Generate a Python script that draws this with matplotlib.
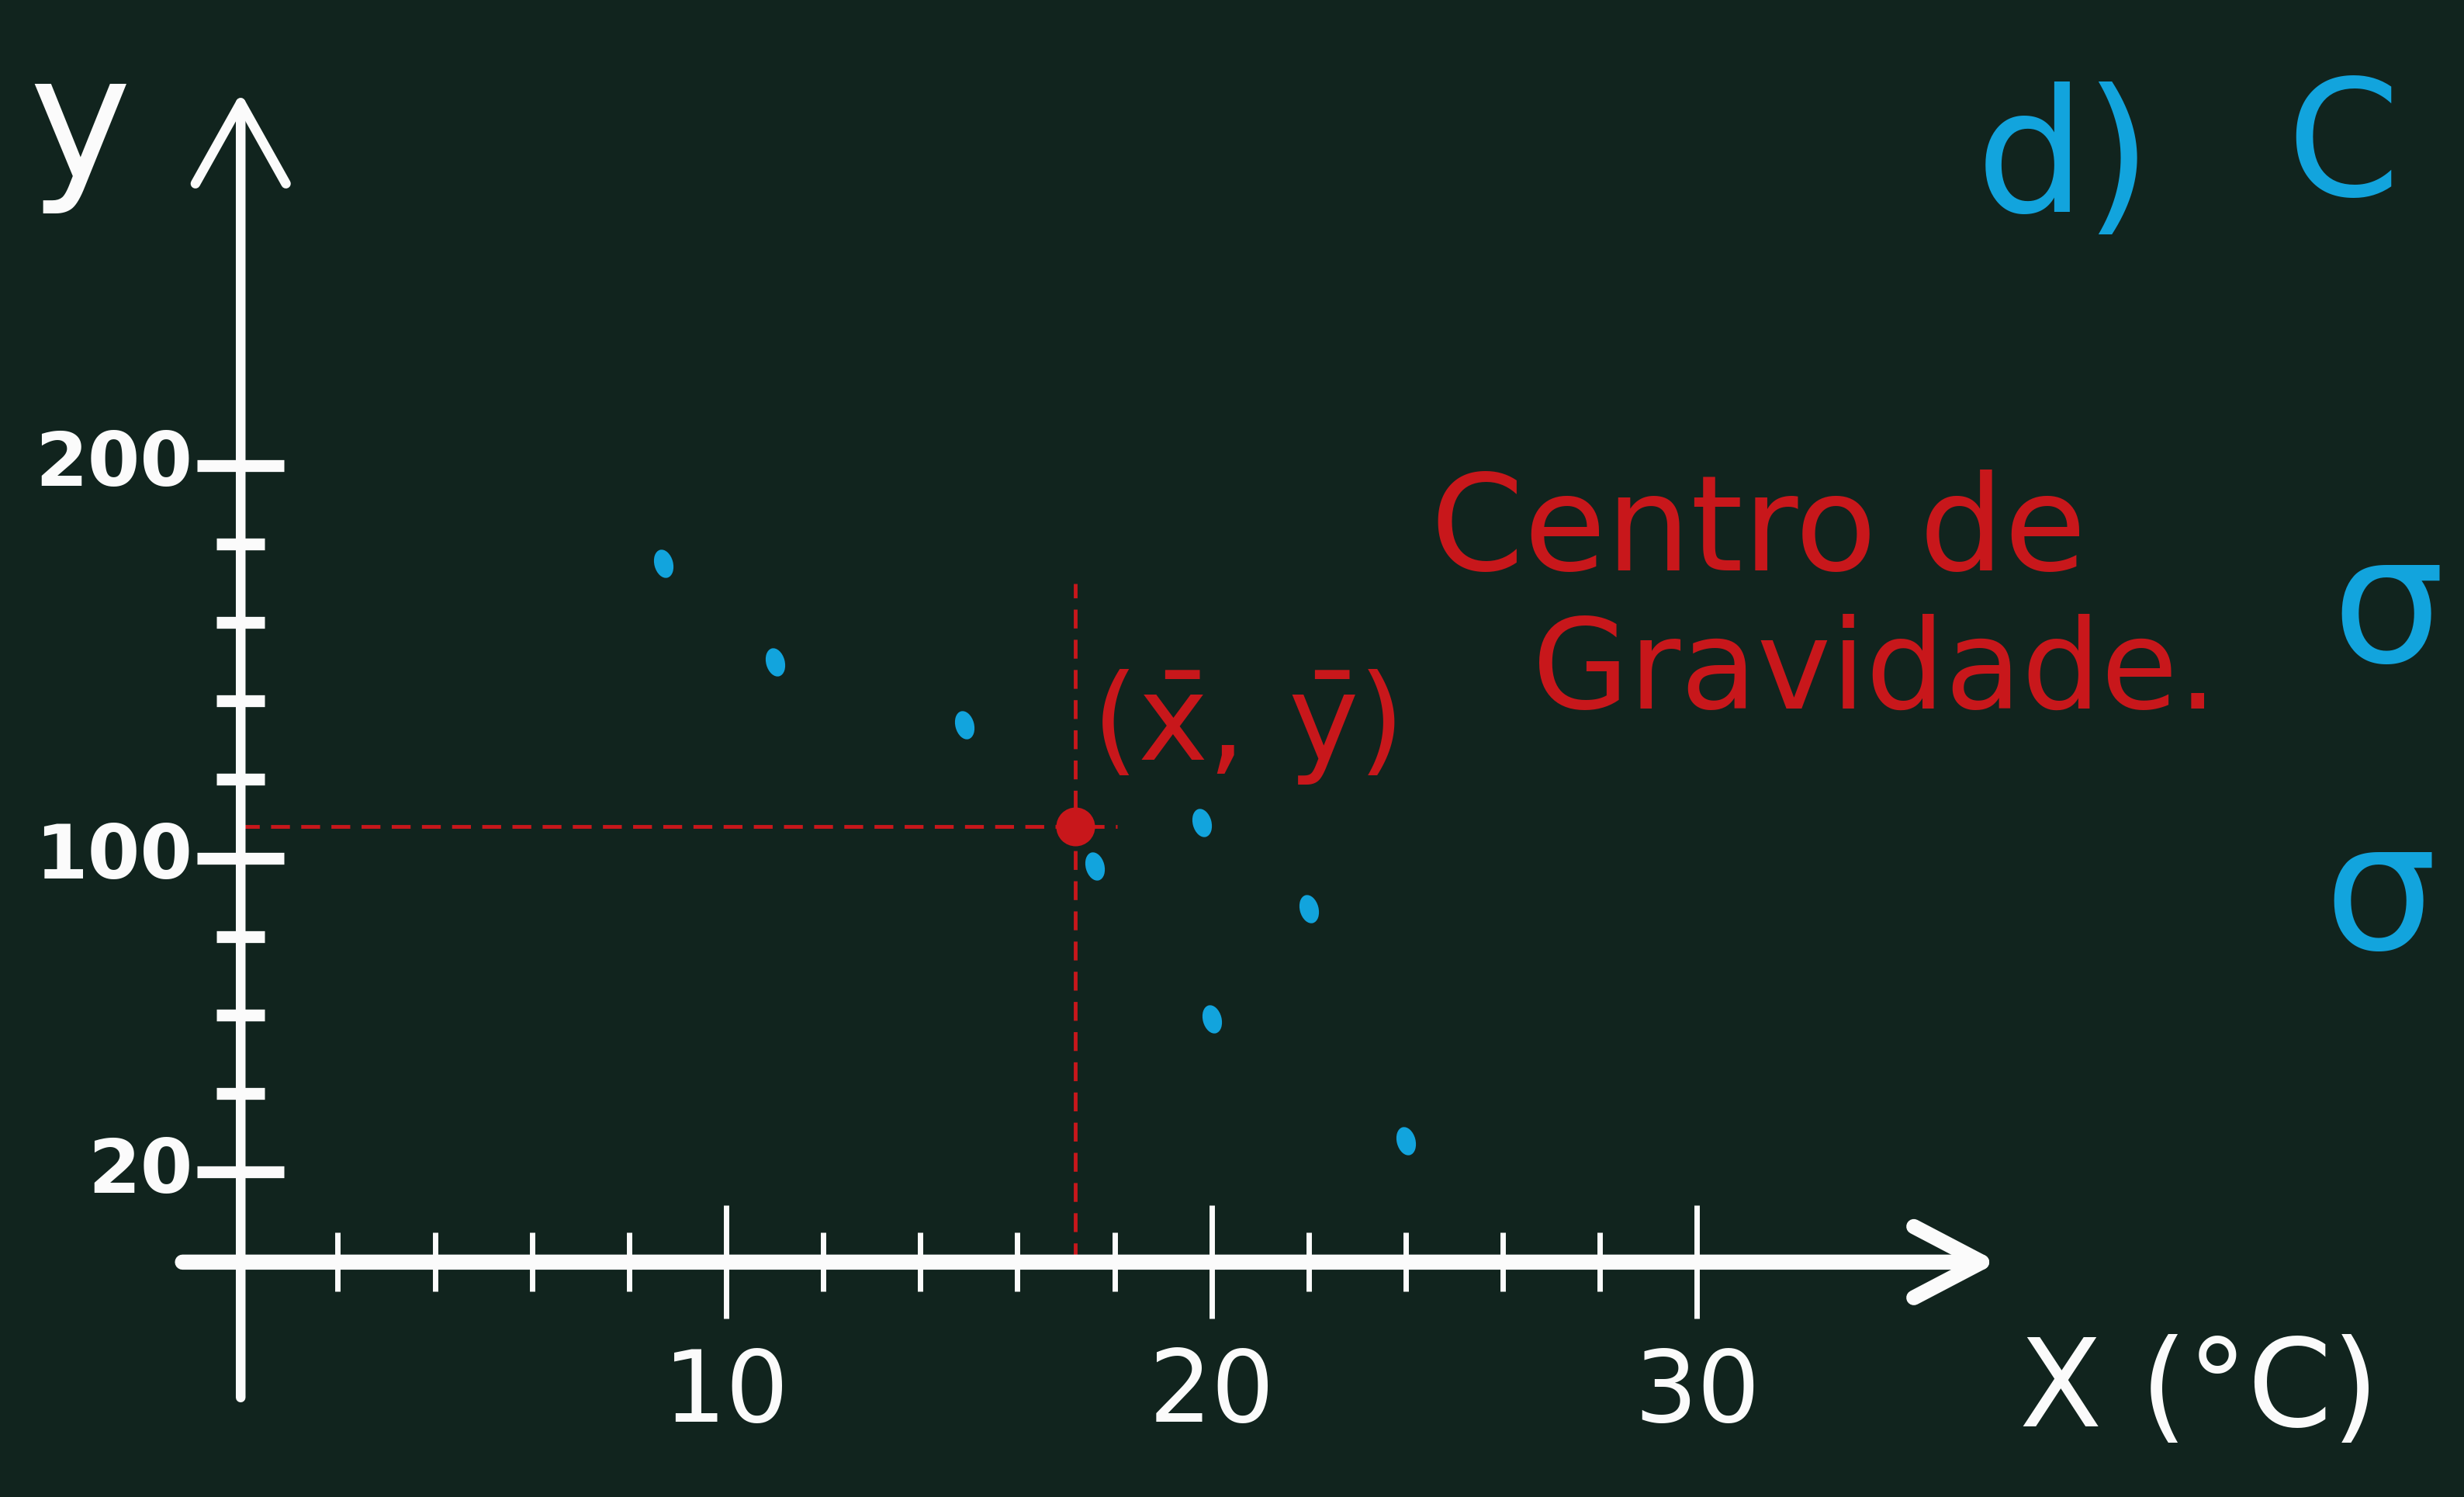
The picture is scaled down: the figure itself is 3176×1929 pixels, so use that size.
import matplotlib
matplotlib.use("Agg")
import matplotlib.pyplot as plt
from matplotlib.path import Path
from matplotlib.transforms import Affine2D

# ---------------- data ----------------
temperature_c = [8.7, 11.0, 14.9, 17.6, 19.8, 20.0, 22.0, 24.0]
y_values = [175, 150, 134, 98, 109, 59, 87, 28]
x_mean = 17.2
y_mean = 108

x_ticks = [2, 4, 6, 8, 10, 12, 14, 16, 18, 20, 22, 24, 26, 28, 30]
x_major = [10, 20, 30]
y_ticks = [20, 40, 60, 80, 100, 120, 140, 160, 180, 200]
y_major = [20, 100, 200]

# ---------------- style ----------------
BG = "#11241e"
WHITE = "#fbfbfb"
BLUE = "#12a4dd"
RED = "#c8171b"
W, H = 3176, 1929
plt.rcParams["font.family"] = ["DejaVu Sans"]
plt.rcParams["mathtext.fontset"] = "dejavusans"

fig = plt.figure(figsize=(W / 100, H / 100), dpi=100)
fig.patch.set_facecolor(BG)
ax = fig.add_axes([0, 0, 1, 1])
ax.set_facecolor(BG)
ax.set_xlim(-4.958, 45.80)
ax.set_ylim(-62.86, 318.67)
ax.axis("off")


def fp(xp, yp):
    return xp / W, 1 - yp / H


axis_y = -3

# axes with hand-drawn style arrows
ax.annotate("", xy=(0, 295), xytext=(0, -37.5),
            arrowprops=dict(arrowstyle="->,head_length=0.75,head_width=0.42",
                            lw=9, color=WHITE, mutation_scale=100,
                            shrinkA=0, shrinkB=0, capstyle="round",
                            joinstyle="round"))
ax.annotate("", xy=(36.2, axis_y), xytext=(-1.2, axis_y),
            arrowprops=dict(arrowstyle="->,head_length=0.63,head_width=0.33",
                            lw=14, color=WHITE, mutation_scale=100,
                            shrinkA=0, shrinkB=0, capstyle="round",
                            joinstyle="round"))

# y ticks
for v in y_ticks:
    major = v in y_major
    ax.plot([0], [v], marker="_", color=WHITE,
            markersize=81 if major else 44, markeredgewidth=11,
            solid_capstyle="round")
for v in y_major:
    ax.annotate(str(v), xy=(0, v), xytext=(-62, 0), textcoords="offset pixels",
                ha="right", va="center", color=WHITE, fontsize=70,
                fontweight="bold")

# x ticks
for v in x_ticks:
    major = v in x_major
    ax.plot([v], [axis_y], marker="|", color=WHITE,
            markersize=105 if major else 55, markeredgewidth=5)
for v in x_major:
    ax.annotate(str(v), xy=(v, axis_y), xytext=(0, -170),
                textcoords="offset pixels", ha="center", va="center",
                color=WHITE, fontsize=92)

# centroid guide lines
ax.plot([0, x_mean + 0.85], [y_mean, y_mean], color=RED, lw=3.5,
        dashes=(5, 3))
ax.plot([x_mean, x_mean], [axis_y, y_mean + 62], color=RED, lw=3.5,
        dashes=(5, 3))

# data points (handwritten-looking elliptical dots)
dot = Affine2D().scale(0.65, 1.0).rotate_deg(15).transform_path(Path.unit_circle())
ax.plot(temperature_c, y_values, linestyle="none", marker=dot,
        markersize=27, color=BLUE, markeredgewidth=0)
ax.plot([x_mean], [y_mean], marker="o", markersize=36, color=RED,
        markeredgewidth=0)

# annotations
fig.text(*fp(103, 168), "y", color=WHITE, fontsize=160, ha="center",
         va="center")
fig.text(*fp(2835, 1795), "X (°C)", color=WHITE, fontsize=112, ha="center",
         va="center")
fig.text(*fp(1603, 937), r"$(\bar{\mathrm{x}},\,\bar{\mathrm{y}})$",
         color=RED, fontsize=110, ha="center", va="center")
fig.text(*fp(1844, 735), "Centro de", color=RED, fontsize=124, ha="left",
         va="baseline")
fig.text(*fp(1975, 913), "Gravidade.", color=RED, fontsize=116, ha="left",
         va="baseline")
fig.text(*fp(2661, 212), "d)", color=BLUE, fontsize=160, ha="center",
         va="center")
fig.text(*fp(3020, 194), "C", color=BLUE, fontsize=150, ha="center",
         va="center")
fig.text(*fp(3005, 790), "σ", color=BLUE, fontsize=165, ha="left",
         va="center")
fig.text(*fp(2995, 1160), "σ", color=BLUE, fontsize=165, ha="left",
         va="center")

fig.savefig("out.png", dpi=100, facecolor=BG)
